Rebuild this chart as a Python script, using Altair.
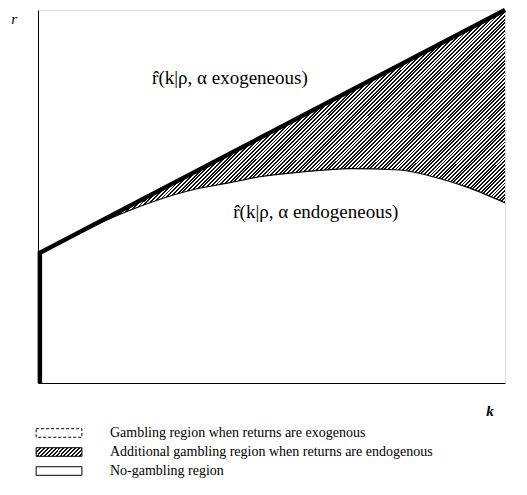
import altair as alt
import pandas as pd

# ---- data (k and r in axis units 0..1) ----
k_pts = [0.004, 0.111, 0.197, 0.325, 0.411, 0.475, 0.561, 0.668, 0.775, 0.846, 0.919, 1.0]
r_endo = [0.349, 0.416, 0.463, 0.516, 0.537, 0.553, 0.565, 0.575, 0.571, 0.553, 0.525, 0.483]
r_exo = [0.349, 0.419, 0.475, 0.559, 0.615, 0.657, 0.713, 0.783, 0.853, 0.899, 0.947, 1.0]

boundary_k = [0.004, 0.004, 1.0]
boundary_r = [0.0, 0.349, 1.0]

legend_labels = [
    "Gambling region when returns are exogenous",
    "Additional gambling region when returns are endogenous",
    "No-gambling region",
]
legend_r = [-0.134, -0.185, -0.236]

curve_labels = ["r\u0302(k|\u03c1, \u03b1 exogeneous)", "r\u0302(k|\u03c1, \u03b1 endogeneous)"]
curve_label_k = [0.411, 0.595]
curve_label_r = [0.818, 0.458]

FONT = "Liberation Serif"


def hatch(n, frac=0.5, dark="#111111", light="#ffffff"):
    stops = []
    for i in range(n):
        a = i / n
        b = (i + frac) / n
        c = (i + 1) / n
        stops += [
            {"offset": a, "color": dark},
            {"offset": b, "color": dark},
            {"offset": b, "color": light},
            {"offset": c, "color": light},
        ]
    return stops


def hatch_fill(w, h, n):
    r = h / w
    a = (1 + r) / (1 + r * r)
    return alt.Gradient(gradient="linear", x1=0, y1=0, x2=a, y2=a * r, stops=hatch(n))


xs = alt.Scale(domain=[0, 1], nice=False, zero=False)
ys = alt.Scale(domain=[0, 1], nice=False, zero=False)
xax = alt.Axis(labels=False, ticks=False, grid=False, title=None, domainColor="black", domainWidth=1)
yax = alt.Axis(labels=False, ticks=False, grid=False, title=None, domainColor="black", domainWidth=1)

region = pd.DataFrame({"k": k_pts, "endo": r_endo, "exo": r_exo})

area = alt.Chart(region).mark_area(fill=hatch_fill(465, 243, 190), stroke=None,
                                   interpolate="monotone").encode(
    x=alt.X("k:Q", scale=xs, axis=xax),
    y=alt.Y("endo:Q", scale=ys, axis=yax),
    y2="exo:Q",
)

endo_line = alt.Chart(region).mark_line(color="black", strokeWidth=1.2, interpolate="monotone").encode(
    x=alt.X("k:Q", scale=xs), y=alt.Y("endo:Q", scale=ys)
)

bdf = pd.DataFrame({"k": boundary_k, "r": boundary_r, "o": [0, 1, 2]})
exo_line = alt.Chart(bdf).mark_line(color="black", strokeWidth=4.5, strokeJoin="miter").encode(
    x=alt.X("k:Q", scale=xs), y=alt.Y("r:Q", scale=ys), order="o:Q"
)

ldf = pd.DataFrame({"label": curve_labels, "k": curve_label_k, "r": curve_label_r})
curve_text = alt.Chart(ldf).mark_text(font=FONT, fontSize=19, align="center", baseline="middle").encode(
    x=alt.X("k:Q", scale=xs), y=alt.Y("r:Q", scale=ys), text="label:N"
)

axis_lbl = pd.DataFrame({"label": ["r", "k"], "k": [-0.051, 0.968], "r": [0.975, -0.075]})
r_text = alt.Chart(axis_lbl.iloc[[0]]).mark_text(font=FONT, fontSize=15, fontStyle="italic",
                                                 baseline="middle", clip=False).encode(
    x=alt.X("k:Q", scale=xs), y=alt.Y("r:Q", scale=ys), text="label:N"
)
k_text = alt.Chart(axis_lbl.iloc[[1]]).mark_text(font=FONT, fontSize=15, fontStyle="italic",
                                                 fontWeight="bold", baseline="middle", clip=False).encode(
    x=alt.X("k:Q", scale=xs), y=alt.Y("r:Q", scale=ys), text="label:N"
)

leg = pd.DataFrame({"label": legend_labels, "r": legend_r,
                    "k0": [-0.004] * 3, "k1": [0.094] * 3, "kt": [0.154] * 3})
leg["r0"] = leg["r"] - 0.0115
leg["r1"] = leg["r"] + 0.0115

sw1 = alt.Chart(leg.iloc[[0]]).mark_rect(fill="white", stroke="black", strokeWidth=1,
                                         strokeDash=[3, 2], clip=False).encode(
    x=alt.X("k0:Q", scale=xs), x2="k1:Q", y=alt.Y("r0:Q", scale=ys), y2="r1:Q"
)
sw2 = alt.Chart(leg.iloc[[1]]).mark_rect(fill=hatch_fill(46, 8, 14), stroke="black", strokeWidth=1,
                                         clip=False).encode(
    x=alt.X("k0:Q", scale=xs), x2="k1:Q", y=alt.Y("r0:Q", scale=ys), y2="r1:Q"
)
sw3 = alt.Chart(leg.iloc[[2]]).mark_rect(fill="white", stroke="black", strokeWidth=1,
                                         clip=False).encode(
    x=alt.X("k0:Q", scale=xs), x2="k1:Q", y=alt.Y("r0:Q", scale=ys), y2="r1:Q"
)
leg_text = alt.Chart(leg).mark_text(font=FONT, fontSize=14, align="left", baseline="middle",
                                    clip=False).encode(
    x=alt.X("kt:Q", scale=xs), y=alt.Y("r:Q", scale=ys), text="label:N"
)

chart = alt.layer(
    area, endo_line, exo_line, curve_text, r_text, k_text, sw1, sw2, sw3, leg_text
).properties(
    width=467, height=373,
    autosize=alt.AutoSizeParams(type="none"),
    padding={"left": 30, "top": 2, "right": 12, "bottom": 100},
).configure_view(stroke=None).configure(background="white")

chart.save("out.html", embed_options={"renderer": "svg", "actions": False})
